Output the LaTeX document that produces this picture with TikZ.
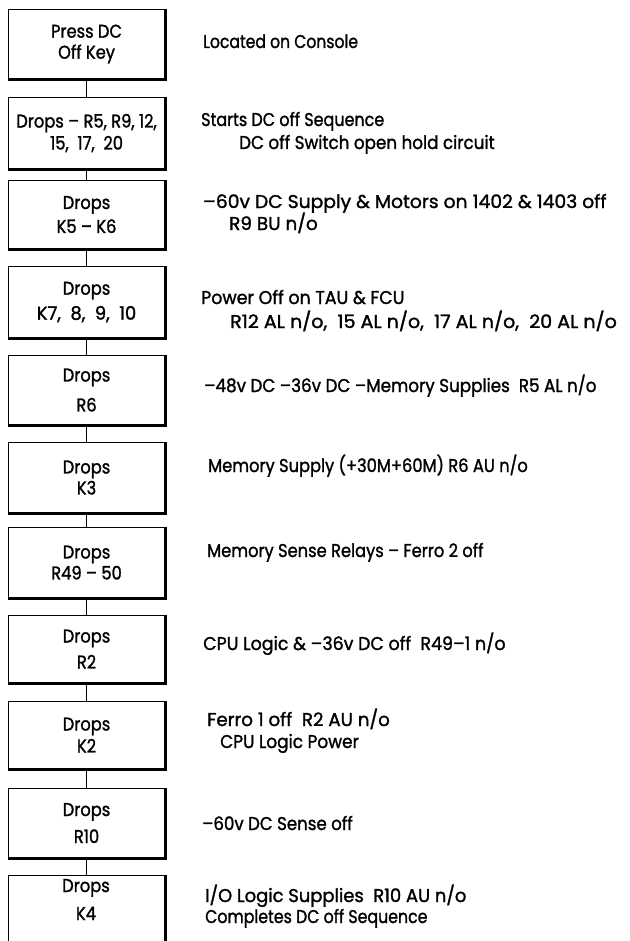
\documentclass[tikz,border=0pt]{standalone}
\usepackage{fontspec}
\usepackage{graphicx}
\setmainfont{Poppins}[FakeStretch=0.88, FakeBold=1.3]
\newcommand{\hsc}[2]{\scalebox{#1}[1]{#2}}
\begin{document}
\begin{tikzpicture}[x=1pt,y=-1pt,
  stepbox/.style={draw, line width=1.1pt, anchor=north west, minimum width=156pt,
     inner sep=0pt, align=center, font=\fontsize{18.5}{21}\selectfont},
  boxtext/.style={inner sep=0pt, anchor=base, font=\fontsize{18.5}{21}\selectfont},
  note/.style={anchor=base west, inner sep=0pt, font=\fontsize{18.5}{21}\selectfont},
  link/.style={line width=1.3pt}]
\useasboundingbox (0,0) rectangle (629,941);
\fill[white] (0,0) rectangle (629,941);
% boxes
\node[stepbox, minimum height=69pt] (b1) at (8,9) {Press DC\\Off Key};
\node[stepbox, minimum height=71pt] (b2) at (8,97) {Drops – R5, R9, 12,\\[1pt]15, \ 17, \ 20};
\node[stepbox, minimum height=68pt] (b3) at (8,180) {Drops\\[3pt]K5 – K6};
\node[stepbox, minimum height=71pt] (b4) at (8,266) {Drops\\[4pt]\hsc{1.1}{K7, \ 8, \ 9, \ 10}};
\node[stepbox, minimum height=69pt] (b5) at (8,355) {Drops\\[9pt]R6};
\node[stepbox, minimum height=70pt] (b6) at (8,442) {Drops\\K3};
\node[stepbox, minimum height=70pt] (b7) at (8,527) {Drops\\R49 – 50};
\node[stepbox, minimum height=67pt] (b8) at (8,615) {Drops\\[5pt]R2};
\node[stepbox, minimum height=67pt] (b9) at (8,701) {Drops\\[1pt]K2};
\node[stepbox, minimum height=69pt] (b10) at (8,788) {Drops\\[6pt]R10};
\node[stepbox, minimum height=75pt] (b11) at (8,875) {};
\node[boxtext] (b11a) at (86,892) {Drops};
\node[boxtext] (b11b) at (86,920) {K4};
% shadow edges
\foreach \b in {b1,b2,b3,b4,b5,b6,b7,b8,b9,b10,b11}
  \draw[line width=3pt] ([xshift=0.5pt]\b.north east) -- ([xshift=0.5pt,yshift=-0.5pt]\b.south east) -- ([yshift=-0.5pt]\b.south west);
% connectors
\draw[link] (b1.south) -- (b2.north);
\draw[link] (b2.south) -- (b3.north);
\draw[link] (b3.south) -- (b4.north);
\draw[link] (b4.south) -- (b5.north);
\draw[link] (b5.south) -- (b6.north);
\draw[link] (b6.south) -- (b7.north);
\draw[link] (b7.south) -- (b8.north);
\draw[link] (b8.south) -- (b9.north);
\draw[link] (b9.south) -- (b10.north);
\draw[link] (b10.south) -- (b11.north);
% notes
\node[note] (t1) at (203,48) {\hsc{0.96}{Located on Console}};
\node[note] (t2a) at (201,126) {\hsc{0.98}{Starts DC off Sequence}};
\node[note] (t2b) at (239,149) {\hsc{1.03}{DC off Switch open hold circuit}};
\node[note] (t3a) at (203,208) {\hsc{1.15}{–60v DC Supply \& Motors on 1402 \& 1403 off}};
\node[note] (t3b) at (229,230) {\hsc{1.13}{R9 BU n/o}};
\node[note] (t4a) at (201,304) {\hsc{1.07}{Power Off on TAU \& FCU}};
\node[note] (t4b) at (230,328) {\hsc{1.17}{R12 AL n/o, \ 15 AL n/o, \ 17 AL n/o, \ 20 AL n/o}};
\node[note] (t5) at (204,392) {\hsc{1.03}{–48v DC –36v DC –Memory Supplies \ R5 AL n/o}};
\node[note] (t6) at (208,472) {Memory Supply (+30M+60M) R6 AU n/o};
\node[note] (t7) at (207,557) {Memory Sense Relays – Ferro 2 off};
\node[note] (t8) at (203,650) {\hsc{1.07}{CPU Logic \& –36v DC off \ R49–1 n/o}};
\node[note] (t9a) at (207,726) {\hsc{1.12}{Ferro 1 off \ R2 AU n/o}};
\node[note] (t9b) at (220,748) {\hsc{1.04}{CPU Logic Power}};
\node[note] (t10) at (202,830) {\hsc{1.02}{–60v DC Sense off}};
\node[note] (t11a) at (205,902) {\hsc{1.1}{I/O Logic Supplies \ R10 AU n/o}};
\node[note] (t11b) at (205,923) {\hsc{0.97}{Completes DC off Sequence}};
\end{tikzpicture}
\end{document}
